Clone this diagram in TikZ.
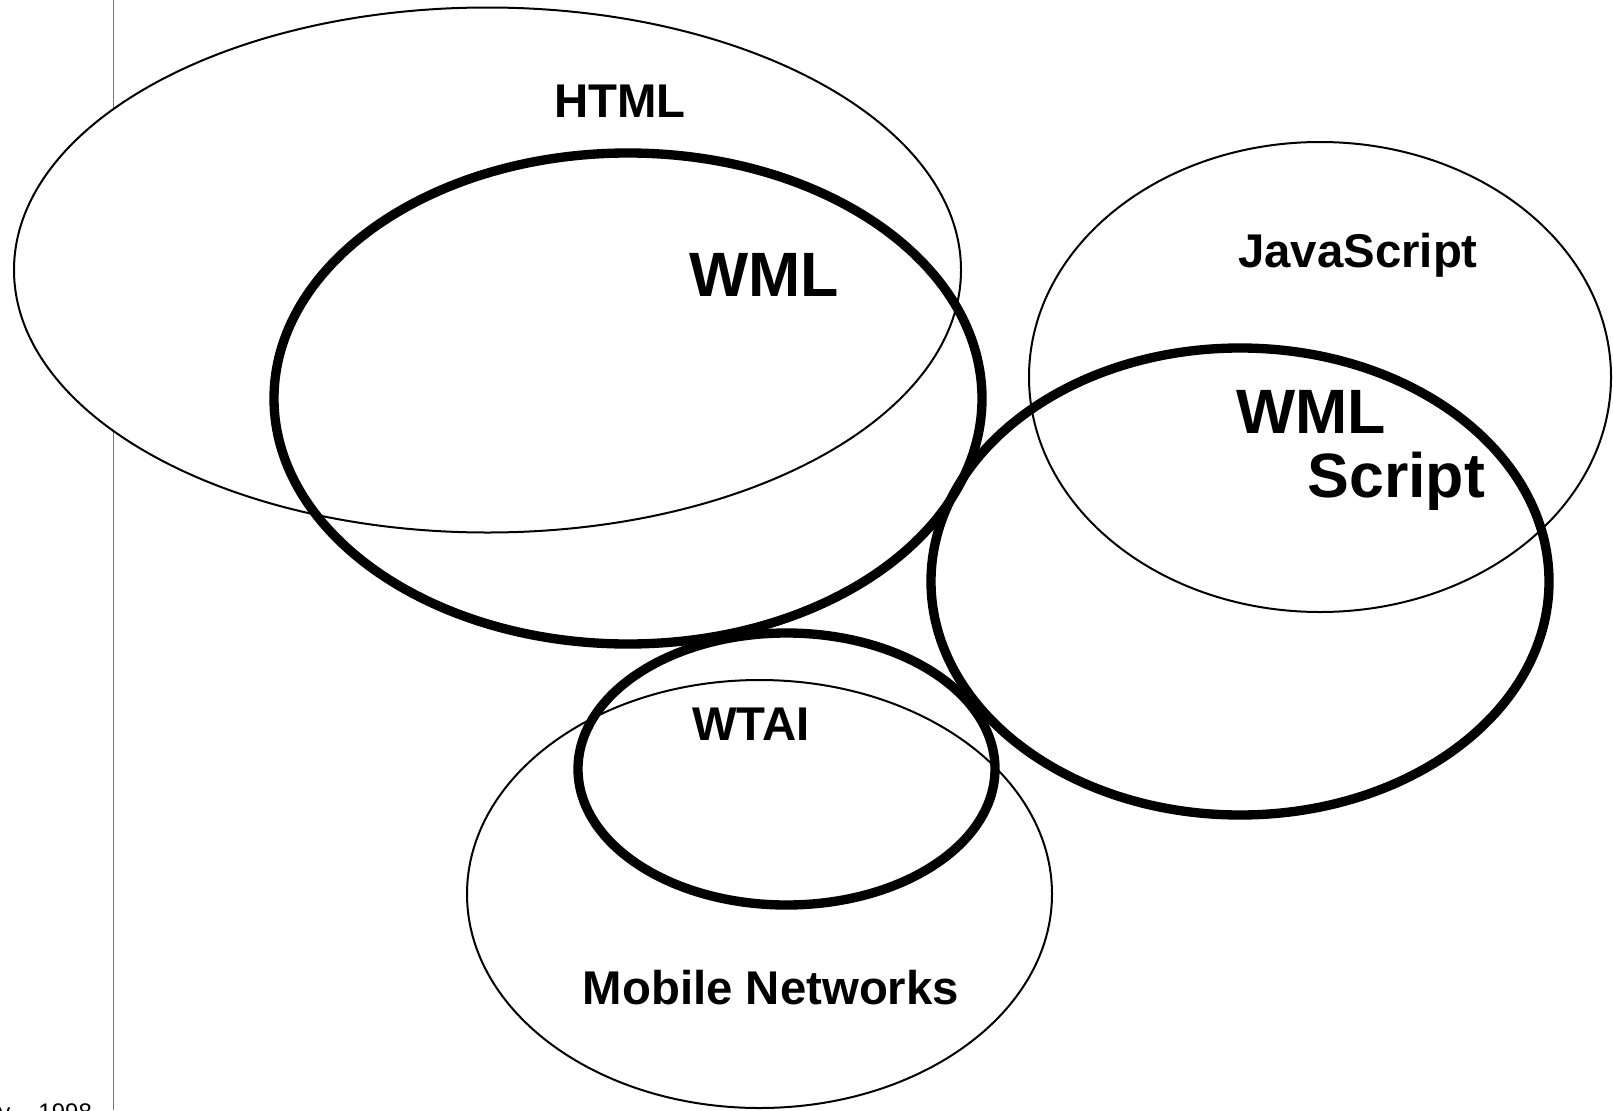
\documentclass[tikz,border=0pt]{standalone}
\usepackage{fontspec}
\setmainfont{Liberation Sans}

\tikzset{every picture/.style={line width=0.75pt}}
\tikzset{
  thinoval/.style={draw=black, line width=1.5pt},
  thickoval/.style={draw=black, line width=7pt},
  setname/.style={inner sep=0.75pt, font=\fontsize{35.5}{42}\selectfont\bfseries},
  bigname/.style={inner sep=0.75pt, font=\fontsize{47}{56}\selectfont\bfseries}
}

\begin{document}
\begin{tikzpicture}[x=0.75pt,y=0.75pt,yscale=-1,xscale=1]
\useasboundingbox (0,0) rectangle (1613,1110);

%Vertical margin line
\draw [color={rgb, 255:red, 120; green, 120; blue, 120 }] (113,0) -- (113,1110);

%HTML
\draw [thinoval, fill=white] (487.5,270) ellipse (473.5 and 262.5);
%WML
\draw [thickoval] (628,398.5) ellipse (354 and 245.5);
%JavaScript
\draw [thinoval] (1320,377) ellipse (291 and 235);
%WMLScript
\draw [thickoval] (1240,581.5) ellipse (309 and 233.5);
%Mobile Networks
\draw [thinoval] (759.5,894) ellipse (292.5 and 214);
%WTAI
\draw [thickoval] (786.5,769) ellipse (208.5 and 136);

% Text Node
\node [setname] (html) at (620,101) {HTML};
% Text Node
\node [bigname] (wml) at (764,275) {WML};
% Text Node
\node [setname] (js) at (1358,255) {JavaScript};
% Text Node
\node [bigname, anchor=west] (wmls1) at (1235,412) {WML};
% Text Node
\node [bigname, anchor=west] (wmls2) at (1306,481) {Script};
% Text Node
\node [setname] (wtai) at (751,724) {WTAI};
% Text Node
\node [setname] (mobile) at (771,988) {Mobile Networks};
% Text Node
\node [anchor=base west, inner sep=0pt, font=\fontsize{18}{22}\selectfont] (date) at (-2,1120) {y\hspace{21pt}1998};

\end{tikzpicture}
\end{document}
